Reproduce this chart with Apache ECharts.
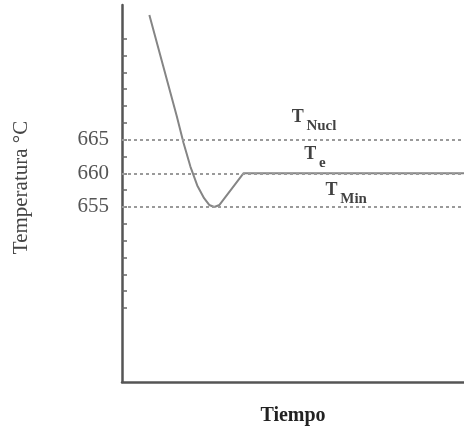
<!DOCTYPE html>
<html><head><meta charset="utf-8">
<script src="https://cdn.jsdelivr.net/npm/echarts@6/dist/echarts.min.js"></script>
<style>html,body{margin:0;padding:0;background:#fff}#c{width:464px;height:427px}</style>
</head><body><div id="c"></div>
<script>
const curveX = [8, 12, 16, 18, 20, 22, 24, 25.5, 27, 28.5, 35.5, 100];
const curveY = [683.5, 676, 668.5, 664.5, 661, 658.2, 656.3, 655.3, 655, 655.3, 660, 660];
const refLevels = [665, 660, 655];
const refNames = ['Nucl', 'e', 'Min'];
const refLabelX = [49.6, 53.3, 59.5];
const refLabelY = [668.3, 662.8, 657.5];
const tickValues = [640, 642.5, 645, 647.5, 650, 652.5, 655, 657.5, 660, 662.5, 665, 667.5, 670, 672.5, 675, 677.5, 680];
const tickLabels = [655, 660, 665];

const chart = echarts.init(document.getElementById('c'));
const serif = "'Liberation Serif', 'DejaVu Serif', serif";
chart.setOption({
  animation: false,
  grid: {left: 122, right: 0, top: 5, bottom: 45, outerBoundsMode: 'none', containLabel: false},
  xAxis: {
    type: 'value', min: 0, max: 100,
    name: 'Tiempo', nameLocation: 'middle', nameGap: 24,
    nameTextStyle: {fontFamily: serif, fontWeight: 'bold', fontSize: 20, color: '#222'},
    axisLine: {show: true, onZero: false, lineStyle: {color: '#555', width: 2.5}},
    axisTick: {show: false}, axisLabel: {show: false}, splitLine: {show: false}
  },
  yAxis: {
    type: 'value', min: 629, max: 685,
    name: 'Temperatura °C', nameLocation: 'middle', nameGap: 90, nameRotate: 90,
    nameTextStyle: {fontFamily: serif, fontSize: 21, color: '#444', padding: [0, 0, 0, 12]},
    axisLine: {show: true, lineStyle: {color: '#555', width: 2.5}},
    axisTick: {show: true, inside: true, length: 5, customValues: tickValues, lineStyle: {color: '#666', width: 1.5}},
    axisLabel: {customValues: tickLabels, margin: 13, fontFamily: serif, fontSize: 21, color: '#555'},
    splitLine: {show: false}
  },
  series: [
    {
      type: 'line', symbol: 'none', silent: true,
      data: curveX.map((x, i) => [x, curveY[i]]),
      lineStyle: {color: '#858585', width: 2},
      markLine: {
        symbol: 'none', silent: true, label: {show: false},
        lineStyle: {type: [3, 3], color: '#9a9a9a', width: 2},
        data: refLevels.map(v => ({yAxis: v}))
      },
      z: 3
    },
    {
      type: 'scatter', symbolSize: 0, silent: true,
      data: refLabelX.map((x, i) => [x, refLabelY[i]]),
      label: {
        show: true, position: 'inside', align: 'left',
        formatter: p => '{t|T}{g| }{s|' + refNames[p.dataIndex] + '}',
        rich: {
          t: {fontFamily: serif, fontWeight: 'bold', fontSize: 18, color: '#111'},
          g: {fontSize: 10},
          s: {fontFamily: serif, fontWeight: 'bold', fontSize: 15, color: '#111', padding: [18, 0, 0, 0]}
        }
      }
    }
  ]
});
</script></body></html>
